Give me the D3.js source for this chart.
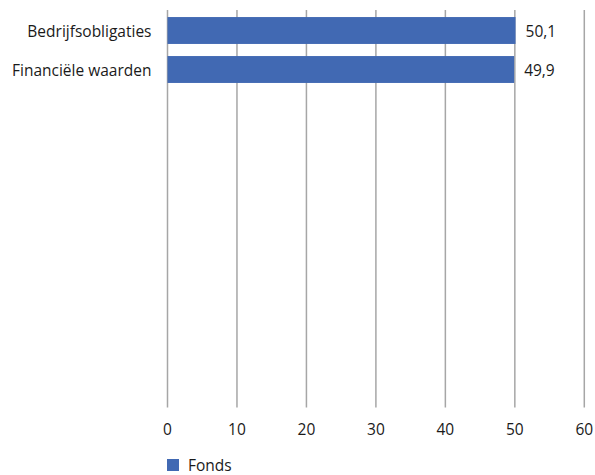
<!DOCTYPE html>
<html><head><meta charset="utf-8">
<script src="https://cdn.jsdelivr.net/npm/d3@7"></script>
<style>body{margin:0;background:#fff;}svg{display:block;font-family:"Open Sans","Noto Sans",sans-serif;}</style>
</head><body>
<svg id="c" width="595" height="475"></svg>
<script>
const categories = ["Bedrijfsobligaties", "Financiële waarden"];
const values = [50.1, 49.9];
const valueLabels = ["50,1", "49,9"];
const ticks = [0, 10, 20, 30, 40, 50, 60];
const seriesName = "Fonds";

const svg = d3.select("#c");
const x = d3.scaleLinear().domain([0, 60]).range([167.5, 584.3]);
const y = d3.scaleBand().domain(categories).range([11, 89]).paddingInner(0.31).paddingOuter(0.155);
const color = "#4169b3";
const fs = 15.5;

// gridlines
svg.append("g").selectAll("line").data(ticks).join("line")
  .attr("x1", d => x(d)).attr("x2", d => x(d))
  .attr("y1", 10).attr("y2", 407.5)
  .attr("stroke", "#a6a6a6").attr("stroke-width", 1.5);

// axis labels
svg.append("g").selectAll("text").data(ticks).join("text")
  .attr("x", d => x(d)).attr("y", 435)
  .attr("text-anchor", "middle").attr("font-size", fs).attr("fill", "#1a1a1a")
  .text(d => d);

// bars
svg.append("g").selectAll("rect").data(values).join("rect")
  .attr("x", x(0)).attr("y", (d, i) => y(categories[i]))
  .attr("width", d => x(d) - x(0)).attr("height", y.bandwidth())
  .attr("fill", color);

// category labels
svg.append("g").selectAll("text").data(categories).join("text")
  .attr("x", 151.5).attr("y", d => y(d) + y.bandwidth() / 2 + 6)
  .attr("text-anchor", "end")
  .attr("font-size", fs).attr("fill", "#1a1a1a").text(d => d);

// value labels
svg.append("g").selectAll("text").data(values).join("text")
  .attr("x", d => x(d) + 10).attr("y", (d, i) => y(categories[i]) + y.bandwidth() / 2 + 6.5)
  .attr("font-size", fs).attr("fill", "#1a1a1a")
  .text((d, i) => valueLabels[i]);

// legend
svg.append("rect").attr("x", 167).attr("y", 459).attr("width", 12).attr("height", 12).attr("fill", color);
svg.append("text").attr("x", 188).attr("y", 471)
  .attr("font-size", fs).attr("fill", "#1a1a1a").text(seriesName);
</script>
</body></html>
